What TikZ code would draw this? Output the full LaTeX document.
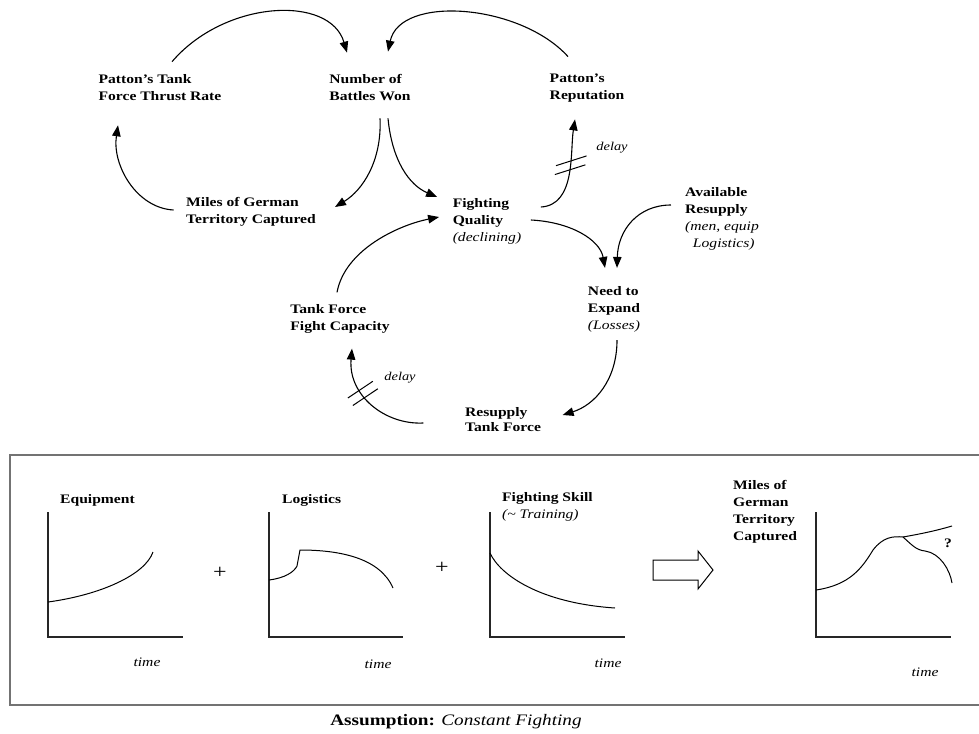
\documentclass[tikz,border=0pt]{standalone}
\usepackage{fontspec}
\setmainfont{Liberation Serif}[FakeStretch=1.2]
\usetikzlibrary{arrows.meta,calc,decorations.markings}

\tikzset{
  var/.style={font=\fontsize{13}{17}\selectfont\bfseries, align=left, inner sep=0pt},
  link/.style={line width=1.1pt, -{Triangle[length=11pt,width=8.5pt]}},
  delayat/.style={postaction={decorate, decoration={markings,
      mark=at position #1 with {\draw[line width=1pt,-] (-2.3pt,14.5pt)--(11.3pt,-14.5pt)
                                                   (-11.3pt,14.5pt)--(2.3pt,-14.5pt);}}}},
  delayperp/.style={postaction={decorate, decoration={markings,
      mark=at position #1 with {\draw[line width=1pt,-] (4.5pt,15pt)--(4.5pt,-15pt)
                                                   (-4.5pt,15pt)--(-4.5pt,-15pt);}}}},
  note/.style={font=\fontsize{12}{14}\selectfont\itshape, inner sep=0pt},
  axis/.style={line width=2.2pt, color=black!85},
  trend/.style={line width=1pt},
  frame/.style={line width=1.6pt, color=black!55},
  ttl/.style={font=\fontsize{13}{17}\selectfont\bfseries, align=left, inner sep=0pt},
  tlabel/.style={font=\fontsize{13}{15}\selectfont\itshape, inner sep=0pt},
  plus/.style={font=\fontsize{20}{20}\selectfont, inner sep=0pt},
}

\begin{document}
\begin{tikzpicture}[x=1pt,y=-1pt]
\useasboundingbox (0,0) rectangle (979,733);

% ---------- causal loop ----------
\node[var] (ptr)  at (160,88)  {Patton's Tank\\Force Thrust Rate};
\node[var] (nbw)  at (370,88)  {Number of\\Battles Won};
\node[var] (prep) at (587,88)  {Patton's\\Reputation};
\node[var] (mgt)  at (251,212) {Miles of German\\Territory Captured};
\node[var] (fq)   at (487,221) {Fighting\\Quality\\{\normalfont\itshape (declining)}};
\node[var] (ar)   at (722,219) {Available\\Resupply\\{\normalfont\itshape (men, equip}\\{\normalfont\itshape\ \ Logistics)}};
\node[var] (nte)  at (614,309) {Need to\\Expand\\{\normalfont\itshape (Losses)}};
\node[var] (tfc)  at (340,319) {Tank Force\\Fight Capacity};
\node[var, font=\fontsize{13}{15}\selectfont\bfseries] (rtf) at (503,420) {Resupply\\Tank Force};

\node[note] (d1) at (612,148) {delay};
\node[note] (d2) at (400,378) {delay};

% thrust rate -> battles won
\draw[link] ($(ptr.north)+(12,-13)$) .. controls +(53,-62) and +(-17,-58) .. ($(nbw.north)+(-23,-22)$);
% reputation -> battles won
\draw[link] ($(prep.north)+(-19,-17)$) .. controls +(-48,-53) and +(12,-57) .. ($(nbw.north)+(18,-23)$);
% battles won -> territory captured
\draw[link] ($(nbw.south)+(10,17)$) .. controls +(2,42) and +(28,-17) .. ($(mgt.east)+(19,-5)$);
% battles won -> fighting quality
\draw[link] ($(nbw.south)+(18,17)$) .. controls +(4,42) and +(-28,-12) .. ($(fq.west)+(-15.5,-24)$);
% territory captured -> thrust rate
\draw[link] ($(mgt.west)+(-12.5,-2)$) .. controls +(-37,-2) and +(-6,40) .. ($(ptr.south)+(-42,24)$);
% fighting quality -> reputation (delayed)
\draw[link, delayat=0.55] ($(fq.east)+(19.5,-14)$) .. controls +(35,-2) and +(-5,32) .. ($(prep.south)+(-12,17)$);
% fighting quality -> need to expand
\draw[link] ($(fq.east)+(9.5,-1)$) .. controls +(40,2) and +(-5,-28) .. ($(nte.north)+(-9,-18)$);
% available resupply -> need to expand
\draw[link] ($(ar.west)+(-14,-14)$) .. controls +(-33,0) and +(1,-38) .. ($(nte.north)+(3,-18)$);
% need to expand -> resupply
\draw[link] ($(nte.south)+(3,8)$) .. controls +(0,40) and +(32,-10) .. ($(rtf.east)+(21.5,-5)$);
% resupply -> fight capacity (delayed)
\draw[link, delayperp=0.6] ($(rtf.west)+(-41.5,3)$) .. controls +(-38,2) and +(-4,47) .. ($(tfc.south)+(12,15)$);
% fight capacity -> fighting quality
\draw[link] ($(tfc.north)+(-3,-12)$) .. controls +(8,-43) and +(-40,8) .. ($(fq.west)+(-13.5,-4)$);

% ---------- trend panel ----------
\draw[frame] (985,455) -- (10,455) -- (10,705) -- (985,705);

% equipment
\node[ttl, anchor=west] (t1) at (60,500) {Equipment};
\draw[axis] (48,512) -- (48,637) -- (183,637);
\draw[trend] (48,602) .. controls (100,595) and (145,575) .. (153,552);
\node[tlabel] (x1) at (147,662) {time};
\node[plus] (p1) at (220,573) {+};

% logistics
\node[ttl, anchor=west] (t2) at (282,500) {Logistics};
\draw[axis] (269,512) -- (269,637) -- (403,637);
\draw[trend] (269,580) .. controls (285,578) and (294,572) .. (297,566) -- (300,550)
             .. controls (340,550) and (380,558) .. (393,588);
\node[tlabel] (x2) at (378,664) {time};
\node[plus] (p2) at (442,568) {+};

% fighting skill
\node[ttl, anchor=north west] (t3) at (502,492) {Fighting Skill\\{\normalfont\itshape (\textasciitilde{} Training)}};
\draw[axis] (490,512) -- (490,637) -- (625,637);
\draw[trend] (490,553) .. controls (500,575) and (540,603) .. (615,608);
\node[tlabel] (x3) at (608,663) {time};

% hollow implication arrow
\draw[line width=1pt] (653,560) -- (698,560) -- (698,551) -- (713,570) -- (698,589) -- (698,580) -- (653,580) -- cycle;

% territory captured
\node[ttl, anchor=north west] (t4) at (733,480) {Miles of\\German\\Territory\\Captured};
\draw[axis] (816,512) -- (816,637) -- (951,637);
\draw[trend] (816,590) .. controls (850,585) and (862,568) .. (873,550)
             .. controls (883,537) and (893,536) .. (903,537)
             .. controls (920,534) and (935,531) .. (952,526);
\draw[trend] (903,537) .. controls (912,545) and (916,550) .. (925,551)
             .. controls (940,553) and (950,570) .. (952,583);
\node[font=\fontsize{13}{15}\selectfont\bfseries, inner sep=0pt] (q) at (948,543) {?};
\node[tlabel] (x4) at (925,672) {time};

% caption
\node[font=\fontsize{16}{18}\selectfont, inner sep=0pt] (cap) at (456,722)
  {\textbf{Assumption:} \textit{Constant Fighting}};
\end{tikzpicture}
\end{document}
